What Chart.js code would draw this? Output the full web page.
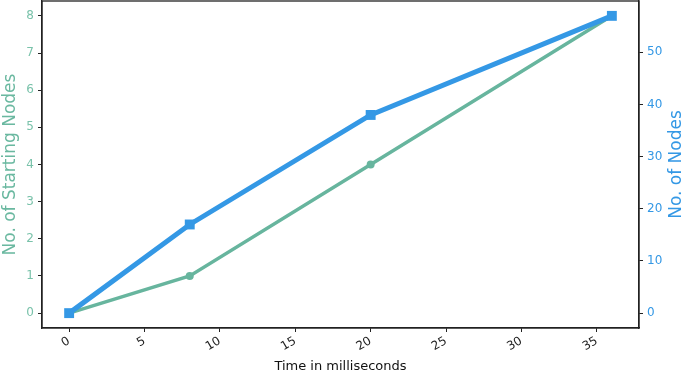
<!DOCTYPE html>
<html>
<head>
<meta charset="utf-8">
<script src="https://cdn.jsdelivr.net/npm/chart.js@4/dist/chart.umd.min.js"></script>
<style>
  html, body { margin: 0; padding: 0; background: #fff; }
  #wrap { width: 685px; height: 374px; }
</style>
</head>
<body>
<div id="wrap"><canvas id="chart" width="685" height="374"></canvas></div>
<script>
const timeMs = [0, 8, 20, 36];
const startingNodes = [0, 1, 4, 8];
const totalNodes = [0, 17, 38, 57];

const xTicks = [0, 5, 10, 15, 20, 25, 30, 35];
const leftTicks = [0, 1, 2, 3, 4, 5, 6, 7, 8];
const rightTicks = [0, 10, 20, 30, 40, 50];

const green = '#67b59e';
const blue = '#3498e5';

function fixTicks(list) {
  return function(scale) {
    scale.ticks = list.map(v => ({ value: v }));
  };
}

function noPad(s) {
  s.paddingTop = 0;
  s.paddingBottom = 0;
  s.paddingLeft = 0;
  s.paddingRight = 0;
}

// frame round the plot area + right axis title (reads bottom to top)
const frame = {
  id: 'frame',
  afterDraw(chart) {
    const a = chart.chartArea, ctx = chart.ctx;
    ctx.save();
    ctx.strokeStyle = '#222';
    ctx.lineWidth = 1.3;
    ctx.strokeRect(a.left, a.top, a.right - a.left, a.bottom - a.top);
    ctx.translate(677, (a.top + a.bottom) / 2);
    ctx.rotate(-Math.PI / 2);
    ctx.fillStyle = blue;
    ctx.font = '17px "DejaVu Sans"';
    ctx.textAlign = 'center';
    ctx.textBaseline = 'middle';
    ctx.fillText('No. of Nodes', 0, 0);
    ctx.restore();
  }
};

const ctx = document.getElementById('chart').getContext('2d');
new Chart(ctx, {
  type: 'line',
  data: {
    datasets: [{
      label: 'No. of Nodes',
      data: timeMs.map((t, i) => ({ x: t, y: totalNodes[i] })),
      yAxisID: 'y2',
      borderColor: blue,
      backgroundColor: blue,
      borderWidth: 5,
      pointStyle: 'rect',
      pointRadius: 7,
      pointBorderWidth: 0,
      tension: 0,
      clip: false
    }, {
      label: 'No. of Starting Nodes',
      data: timeMs.map((t, i) => ({ x: t, y: startingNodes[i] })),
      yAxisID: 'y',
      borderColor: green,
      backgroundColor: green,
      borderWidth: 3.5,
      pointStyle: 'circle',
      pointRadius: 4,
      pointBorderWidth: 0,
      tension: 0,
      clip: false
    }]
  },
  options: {
    responsive: false,
    animation: false,
    layout: { autoPadding: false, padding: { top: 1, left: 0, right: 0, bottom: 0 } },
    plugins: { legend: { display: false }, tooltip: { enabled: false } },
    scales: {
      x: {
        type: 'linear',
        min: -1.8,
        max: 37.8,
        afterBuildTicks: fixTicks(xTicks),
        afterFit: s => { s.height = 46; noPad(s); },
        grid: { display: true, drawOnChartArea: false, drawTicks: true, tickLength: 4, color: '#222' },
        border: { display: true, color: '#222', width: 1.3 },
        ticks: {
          color: '#222',
          font: { family: 'DejaVu Sans', size: 12 },
          minRotation: 30,
          maxRotation: 30,
          padding: 2
        },
        title: {
          display: true,
          text: 'Time in milliseconds',
          color: '#111',
          font: { family: 'DejaVu Sans', size: 13 },
          padding: 0
        }
      },
      y: {
        position: 'left',
        min: -0.4,
        max: 8.4,
        afterBuildTicks: fixTicks(leftTicks),
        afterFit: s => { s.width = 42; noPad(s); },
        grid: { display: true, drawOnChartArea: false, drawTicks: true, tickLength: 4, color: '#222' },
        border: { display: true, color: '#222', width: 1.3 },
        ticks: {
          color: '#79c2aa',
          font: { family: 'DejaVu Sans', size: 12 },
          padding: 4
        },
        title: {
          display: true,
          text: 'No. of Starting Nodes',
          color: '#6ab8a0',
          font: { family: 'DejaVu Sans', size: 17 },
          padding: 0
        }
      },
      y2: {
        position: 'right',
        min: -2.85,
        max: 59.85,
        afterBuildTicks: fixTicks(rightTicks),
        afterFit: s => { s.width = 46; noPad(s); },
        grid: { display: true, drawOnChartArea: false, drawTicks: true, tickLength: 4, color: '#222' },
        border: { display: true, color: '#222', width: 1.3 },
        ticks: {
          color: blue,
          font: { family: 'DejaVu Sans', size: 12 },
          padding: 4
        },
        title: { display: false }
      }
    }
  },
  plugins: [frame]
});
</script>
</body>
</html>
